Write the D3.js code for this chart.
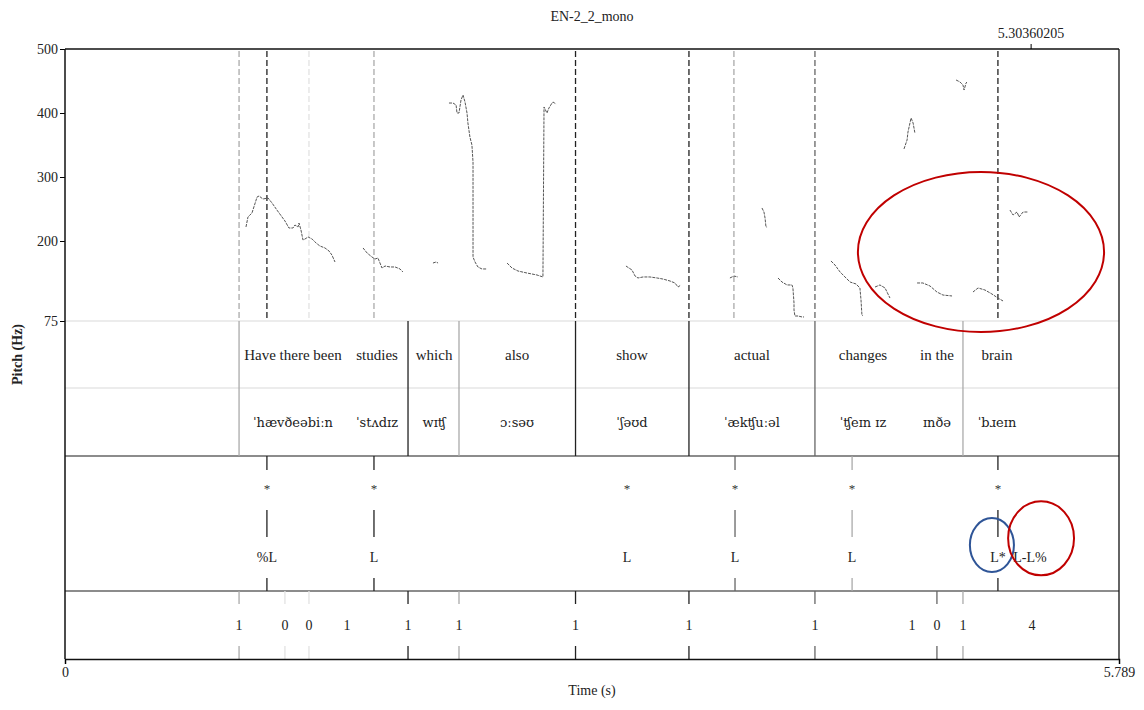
<!DOCTYPE html>
<html>
<head>
<meta charset="utf-8">
<script src="https://cdn.jsdelivr.net/npm/d3@7"></script>
<style>
  body { margin: 0; background: #fff; }
  svg { font-family: "Liberation Serif", "DejaVu Serif", serif; }
</style>
</head>
<body>
<svg id="chart" width="1144" height="710"></svg>
<script>
// ---- data ----
var title = "EN-2_2_mono";
var duration = 5.789;
var cursorTime = 5.30360205;
var pitchTicks = [75, 200, 300, 400, 500];

// pitch contour pieces, [time (s), f0 (Hz)]
var pitchSegments = [
  [[0.994,221.9],[1.005,237.5],[1.027,243.8],[1.055,268.8],[1.066,270.3],[1.087,265.6],[1.115,267.2],[1.137,259.4],[1.164,248.4],[1.192,237.5],[1.208,231.3],[1.230,220.3],[1.252,220.3],[1.263,225],[1.280,221.9],[1.285,228.1],[1.296,217.2],[1.307,201.6],[1.318,203.1],[1.335,206.3],[1.357,203.1],[1.379,196.9],[1.400,192.2],[1.428,189.1],[1.450,184.4],[1.466,178.1],[1.483,167.2]],
  [[1.637,189.1],[1.659,181.3],[1.686,175],[1.703,171.9],[1.719,173.4],[1.741,157.8],[1.758,160.9],[1.785,159.4],[1.813,159.4],[1.840,156.3],[1.856,151.6]],
  [[2.021,165.6],[2.038,167.2],[2.049,165.6]],
  [[2.109,415.6],[2.131,415.6],[2.148,412.5],[2.153,400],[2.164,400],[2.175,420.3],[2.186,428.1],[2.197,417.2],[2.208,400],[2.213,384.4],[2.224,362.5],[2.235,350],[2.241,323.4],[2.241,175],[2.252,167.2],[2.268,159.4],[2.290,156.3],[2.318,156.3]],
  [[2.428,165.6],[2.455,157.8],[2.488,153.1],[2.537,150],[2.592,146.9],[2.625,143.8],[2.631,409.4],[2.647,400],[2.658,407.8],[2.675,415.6],[2.680,417.2],[2.697,414.1]],
  [[3.081,160.9],[3.114,154.7],[3.131,145.3],[3.147,142.2],[3.175,143.8],[3.213,143.8],[3.252,142.2],[3.284,140.6],[3.323,137.5],[3.350,134.4],[3.367,128.1],[3.383,131.3]],
  [[3.652,142.2],[3.674,145.3],[3.696,143.8]],
  [[3.828,251.6],[3.839,245.3],[3.845,235.9],[3.850,221.9],[3.856,221.9]],
  [[3.916,142.2],[3.938,135.9],[3.966,131.3],[3.993,131.3],[3.998,126.6],[4.004,103.1],[4.004,92.2],[4.009,82.8],[4.026,82.8],[4.048,81.3],[4.059,81.3]],
  [[4.207,168.8],[4.229,162.5],[4.257,151.6],[4.284,143.8],[4.312,135.9],[4.345,132.8],[4.366,126.6],[4.372,107.8],[4.377,84.4],[4.383,82.8]],
  [[4.449,128.1],[4.476,131.3],[4.504,126.6],[4.531,110.9]],
  [[4.608,343.8],[4.625,357.8],[4.630,370.3],[4.647,392.2],[4.658,384.4],[4.668,368.8]],
  [[4.680,134.4],[4.712,134.4],[4.751,129.7],[4.789,120.3],[4.822,115.6],[4.872,114.1]],
  [[4.894,451.6],[4.916,448.4],[4.932,443.8],[4.938,435.9],[4.949,446.9],[4.954,448.4]],
  [[4.987,120.3],[5.015,126.6],[5.053,123.4],[5.091,117.2],[5.124,110.9],[5.152,106.3]],
  [[5.190,248.4],[5.207,240.6],[5.229,245.3],[5.240,237.5],[5.262,245.3],[5.289,245.3]]
];

// dashed marks over the pitch track (time, strength 1 = dark ... 4 = faint)
var pitchMarkTimes = [0.956, 1.109, 1.340, 1.697, 2.804, 3.427, 3.674, 4.119, 5.124];
var pitchMarkLevels = [3, 1, 4, 3, 1, 1, 3, 2, 1];

// word + phonetic tiers
var wordBoundaryTimes = [0.956, 1.884, 2.164, 2.804, 3.427, 4.119, 4.932];
var wordBoundaryLevels = [3, 1, 3, 1, 1, 2, 3];
var wordTimes = [1.252, 1.714, 2.027, 2.483, 3.114, 3.773, 4.383, 4.789, 5.119];
var words = ["Have there been", "studies", "which", "also", "show", "actual", "changes", "in the", "brain"];
var phones = ["ˈhævðeəbiːn", "ˈstʌdɪz", "wɪʧ", "ɔːsəʊ", "ˈʃəʊd", "ˈækʧuːəl", "ˈʧeɪn ɪz", "ɪnðə", "ˈbɹeɪn"];

// tone tier
var toneTimes = [1.109, 1.697, 3.087, 3.680, 4.323, 5.124, 5.300];
var toneLabels = ["%L", "L", "L", "L", "L", "L*", "L-L%"];
var toneStars = ["*", "*", "*", "*", "*", "*", ""];
var toneLevels = [1, 1, 0, 2, 3, 1, 0];

// break index tier
var breakTimes = [0.956, 1.208, 1.340, 1.549, 1.884, 2.164, 2.804, 3.427, 4.119, 4.652, 4.789, 4.932, 5.311];
var breakLabels = ["1", "0", "0", "1", "1", "1", "1", "1", "1", "1", "0", "1", "4"];
var breakLevels = [3, 4, 4, 0, 1, 3, 1, 1, 2, 0, 2, 3, 0];

// hand-drawn annotations: centre time / value and half extents
var annotations = [
  {tier: "pitch", t: 5.031, v: 182.8, dt: 0.676, dv: 125, color: "#c00000"},
  {tier: "tone", t: 5.091, dy: 0.66, dt: 0.121, ry: 27, color: "#2f5597"},
  {tier: "tone", t: 5.361, dy: 0.61, dt: 0.181, ry: 37, color: "#c00000"}
];

// ---- layout ----
var svg = d3.select("#chart");
var plotLeft = 65, plotRight = 1119, plotTop = 49;
var tiers = {
  word: [321, 388], phone: [388, 456], tone: [456, 591], brk: [591, 659]
};
var plotBottom = tiers.brk[1];

var x = d3.scaleLinear().domain([0, duration]).range([plotLeft, plotRight]);
var y = d3.scaleLinear().domain([75, 500]).range([tiers.word[0], plotTop]);
var shade = d3.scaleOrdinal().domain([0, 1, 2, 3, 4]).range(["none", "#222", "#666", "#aaa", "#e2e2e2"]);

// title
svg.append("text")
  .attr("x", (plotLeft + plotRight) / 2).attr("y", 21)
  .attr("text-anchor", "middle").attr("font-size", 14).attr("fill", "#222")
  .text(title);

// tier separators
[tiers.word[0], tiers.phone[0]].forEach(function(yy) {
  svg.append("line").attr("x1", plotLeft).attr("x2", plotRight)
    .attr("y1", yy).attr("y2", yy)
    .attr("stroke", "#e6e6e6").attr("stroke-width", 1.5);
});
[tiers.tone[0], tiers.brk[0]].forEach(function(yy) {
  svg.append("line").attr("x1", plotLeft).attr("x2", plotRight)
    .attr("y1", yy).attr("y2", yy)
    .attr("stroke", "#666").attr("stroke-width", 1.5);
});

// dashed marks over pitch
svg.selectAll("line.pmark")
  .data(pitchMarkTimes)
  .enter().append("line")
  .attr("class", "pmark")
  .attr("x1", d => x(d)).attr("x2", d => x(d))
  .attr("y1", plotTop + 2).attr("y2", tiers.word[0])
  .attr("stroke", (d, i) => shade(pitchMarkLevels[i]))
  .attr("stroke-width", 1.3)
  .attr("stroke-dasharray", "6,3");

// pitch contour (speckled grey like the original)
var line = d3.line().x(d => x(d[0])).y(d => y(d[1]));
svg.selectAll("path.f0")
  .data(pitchSegments)
  .enter().append("path")
  .attr("class", "f0")
  .attr("d", line)
  .attr("fill", "none")
  .attr("stroke", "#555")
  .attr("stroke-width", 1)
  .attr("stroke-dasharray", "3,1");

// word + phone boundaries
svg.selectAll("line.wb")
  .data(wordBoundaryTimes)
  .enter().append("line")
  .attr("class", "wb")
  .attr("x1", d => x(d)).attr("x2", d => x(d))
  .attr("y1", tiers.word[0]).attr("y2", tiers.phone[1])
  .attr("stroke", (d, i) => shade(wordBoundaryLevels[i]))
  .attr("stroke-width", 1.3);

svg.selectAll("text.word")
  .data(words)
  .enter().append("text")
  .attr("class", "word")
  .attr("x", (d, i) => x(wordTimes[i]))
  .attr("y", (tiers.word[0] + tiers.word[1]) / 2 + 5)
  .attr("text-anchor", "middle").attr("font-size", 15).attr("fill", "#222")
  .text(d => d);

svg.selectAll("text.phone")
  .data(phones)
  .enter().append("text")
  .attr("class", "phone")
  .attr("x", (d, i) => x(wordTimes[i]))
  .attr("y", (tiers.phone[0] + tiers.phone[1]) / 2 + 5)
  .attr("text-anchor", "middle")
  .attr("font-family", "DejaVu Serif").attr("font-size", 13).attr("fill", "#222")
  .text(d => d);

// tone tier
var tone = svg.append("g");
toneTimes.forEach(function(t, i) {
  var c = shade(toneLevels[i]);
  if (c !== "none") {
    [[0, 14], [54, 81], [122, 135]].forEach(function(seg) {
      tone.append("line")
        .attr("x1", x(t)).attr("x2", x(t))
        .attr("y1", tiers.tone[0] + seg[0]).attr("y2", tiers.tone[0] + seg[1])
        .attr("stroke", c).attr("stroke-width", 1.3);
    });
  }
  tone.append("text")
    .attr("x", x(t)).attr("y", tiers.tone[0] + 37)
    .attr("text-anchor", "middle").attr("font-size", 13).attr("fill", "#333")
    .text(toneStars[i]);
  tone.append("text")
    .attr("x", x(t)).attr("y", tiers.tone[0] + 106)
    .attr("text-anchor", "middle").attr("font-size", 14).attr("fill", "#222")
    .text(toneLabels[i]);
});

// break tier
var brk = svg.append("g");
breakTimes.forEach(function(t, i) {
  var c = shade(breakLevels[i]);
  if (c !== "none") {
    [[0, 13], [55, 68]].forEach(function(seg) {
      brk.append("line")
        .attr("x1", x(t)).attr("x2", x(t))
        .attr("y1", tiers.brk[0] + seg[0]).attr("y2", tiers.brk[0] + seg[1])
        .attr("stroke", c).attr("stroke-width", 1.3);
    });
  }
  brk.append("text")
    .attr("x", x(t)).attr("y", (tiers.brk[0] + tiers.brk[1]) / 2 + 5)
    .attr("text-anchor", "middle").attr("font-size", 14).attr("fill", "#222")
    .text(breakLabels[i]);
});

// frame
svg.append("line").attr("x1", plotLeft).attr("x2", plotRight).attr("y1", plotTop).attr("y2", plotTop)
  .attr("stroke", "#111").attr("stroke-width", 1.5);
svg.append("line").attr("x1", plotRight).attr("x2", plotRight).attr("y1", plotTop).attr("y2", plotBottom)
  .attr("stroke", "#111").attr("stroke-width", 1.3);

// axes
var yAxis = svg.append("g")
  .attr("transform", "translate(" + plotLeft + ",0)")
  .call(d3.axisLeft(y).tickValues(pitchTicks).tickSize(5).tickPadding(2));
yAxis.select(".domain").remove();
yAxis.selectAll("text").attr("font-family", "Liberation Serif").attr("font-size", 14).attr("fill", "#222");
svg.append("line").attr("x1", plotLeft).attr("x2", plotLeft).attr("y1", plotTop).attr("y2", plotBottom)
  .attr("stroke", "#111").attr("stroke-width", 1.5);

var xAxis = svg.append("g")
  .attr("transform", "translate(0," + plotBottom + ")")
  .call(d3.axisBottom(x).tickValues([0, duration]).tickFormat(d => d === 0 ? "0" : "5.789").tickSize(5));
xAxis.select(".domain").attr("stroke", "#111").attr("stroke-width", 1.5);
xAxis.selectAll("text").attr("font-family", "Liberation Serif").attr("font-size", 14).attr("fill", "#222");

var topAxis = svg.append("g")
  .attr("transform", "translate(0," + plotTop + ")")
  .call(d3.axisTop(x).tickValues([cursorTime]).tickFormat(d => "5.30360205").tickSize(5).tickPadding(6));
topAxis.select(".domain").remove();
topAxis.selectAll("text").attr("font-family", "Liberation Serif").attr("font-size", 14).attr("fill", "#222");

svg.append("text")
  .attr("transform", "translate(22," + ((tiers.word[0] + tiers.phone[0]) / 2) + ") rotate(-90)")
  .attr("text-anchor", "middle").attr("font-size", 14).attr("font-weight", "bold").attr("fill", "#222")
  .text("Pitch (Hz)");

svg.append("text")
  .attr("x", x(duration / 2)).attr("y", 695)
  .attr("text-anchor", "middle").attr("font-size", 14).attr("fill", "#222")
  .text("Time (s)");

// annotation ellipses
annotations.forEach(function(a) {
  var cx = x(a.t);
  var rx = x(a.t + a.dt) - x(a.t);
  var cy, ry;
  if (a.tier === "pitch") {
    cy = y(a.v);
    ry = y(a.v) - y(a.v + a.dv);
  } else {
    cy = tiers.tone[0] + a.dy * (tiers.tone[1] - tiers.tone[0]);
    ry = a.ry;
  }
  svg.append("ellipse")
    .attr("cx", cx).attr("cy", cy).attr("rx", rx).attr("ry", ry)
    .attr("fill", "none").attr("stroke", a.color).attr("stroke-width", 2);
});
</script>
</body>
</html>
